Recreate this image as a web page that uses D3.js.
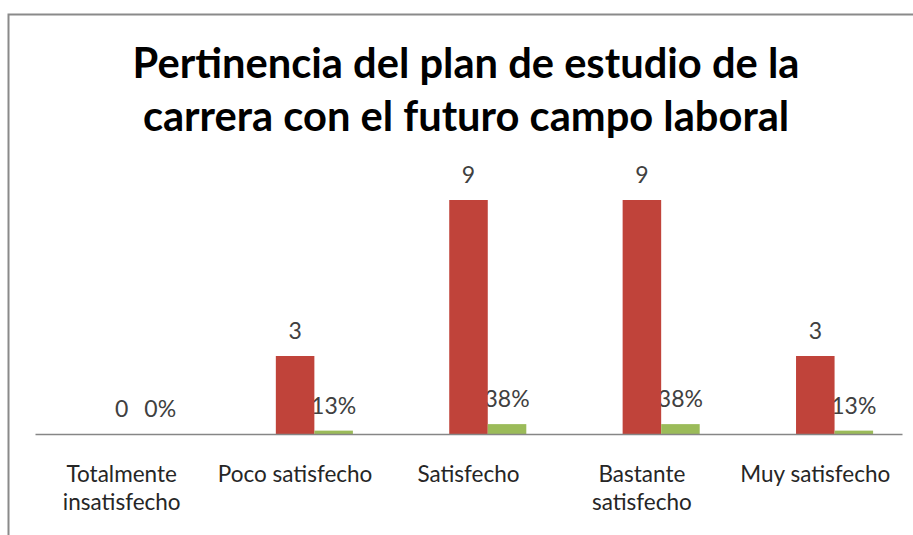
<!DOCTYPE html>
<html>
<head>
<meta charset="utf-8">
<script src="https://cdn.jsdelivr.net/npm/d3@7"></script>
<style>
  body { margin: 0; background: #fff; }
  svg { display: block; font-family: Lato, "Open Sans", sans-serif; }
</style>
</head>
<body>
<script>
const categories = [
  ["Totalmente", "insatisfecho"],
  ["Poco satisfecho"],
  ["Satisfecho"],
  ["Bastante", "satisfecho"],
  ["Muy satisfecho"]
];
// an empty first series keeps the slot left of the red bars free
const seriesNames = ["", "Frecuencia", "Porcentaje"];
const frecuencia = [0, 3, 9, 9, 3];
const porcentaje = [0, 0.13, 0.38, 0.38, 0.13];
const percentLabels = ["0%", "13%", "38%", "38%", "13%"];
const titleLines = ["Pertinencia del plan de estudio de la", "carrera con el futuro campo laboral"];

const w = 913;
const h = 535;
const plotLeft = 35, plotRight = 902, plotBottom = 434, plotTop = 174;

const svg = d3.select("body")
  .append("svg")
  .attr("width", w)
  .attr("height", h);

// chart frame (cropped on the right and bottom)
svg.append("path")
  .attr("d", `M8.5,${h + 2} V14.5 H${w + 2}`)
  .attr("fill", "none")
  .attr("stroke", "#8a8a8a")
  .attr("stroke-width", 2);

// Title
const title = svg.append("g");
titleLines.forEach((t, i) => {
  title.append("text")
    .attr("x", 466)
    .attr("y", 78 + i * 53)
    .attr("text-anchor", "middle")
    .attr("font-weight", 700)
    .attr("font-size", 40)
    .attr("fill", "#000")
    .text(t);
});
// fit the title to the width of the original first line
const firstLen = title.select("text").node().getComputedTextLength();
title.selectAll("text").attr("font-size", 40 * 667 / firstLen);

// Scales
const xScale = d3.scaleBand()
  .domain(d3.range(categories.length))
  .range([plotLeft, plotRight]);

const xSub = d3.scaleBand()
  .domain(seriesNames)
  .range([0, xScale.bandwidth()])
  .paddingOuter(0.75);

const yScale = d3.scaleLinear()
  .domain([0, 10])
  .range([plotBottom, plotTop]);

const rows = categories.map((c, i) => ({
  i: i,
  count: frecuencia[i],
  pct: porcentaje[i],
  pctLabel: percentLabels[i]
}));

// Value labels (drawn first, the red bars sit over them like in the original)
svg.selectAll(".label-pct")
  .data(rows)
  .enter()
  .append("text")
  .attr("class", "label-pct")
  .attr("x", (d) => xScale(d.i) + xSub("Porcentaje") + xSub.bandwidth() / 2)
  .attr("y", (d) => yScale(d.pct) - 17)
  .attr("text-anchor", "middle")
  .attr("font-size", 23)
  .attr("fill", "#404040")
  .text((d) => d.pctLabel);

svg.selectAll(".label-count")
  .data(rows)
  .enter()
  .append("text")
  .attr("class", "label-count")
  .attr("x", (d) => xScale(d.i) + xSub("Frecuencia") + xSub.bandwidth() / 2)
  .attr("y", (d) => yScale(d.count) - 17)
  .attr("text-anchor", "middle")
  .attr("font-size", 23)
  .attr("fill", "#404040")
  .text((d) => d.count);

// Bars
svg.selectAll(".bar-count")
  .data(rows)
  .enter()
  .append("rect")
  .attr("class", "bar-count")
  .attr("x", (d) => xScale(d.i) + xSub("Frecuencia"))
  .attr("y", (d) => yScale(d.count))
  .attr("width", xSub.bandwidth())
  .attr("height", (d) => plotBottom - yScale(d.count))
  .attr("fill", "#c0433a");

svg.selectAll(".bar-pct")
  .data(rows)
  .enter()
  .append("rect")
  .attr("class", "bar-pct")
  .attr("x", (d) => xScale(d.i) + xSub("Porcentaje"))
  .attr("y", (d) => yScale(d.pct))
  .attr("width", xSub.bandwidth())
  .attr("height", (d) => plotBottom - yScale(d.pct))
  .attr("fill", "#9bbb59");

// Axis
const xAxis = d3.axisBottom(xScale).tickSize(0).tickFormat("");
const axisG = svg.append("g")
  .attr("transform", `translate(0, ${plotBottom})`)
  .call(xAxis);
axisG.select(".domain").attr("stroke", "#868686").attr("stroke-width", 1.5);

// Category labels
const catLabels = svg.selectAll(".cat")
  .data(categories)
  .enter()
  .append("text")
  .attr("class", "cat")
  .attr("x", (d, i) => xScale(i) + xScale.bandwidth() / 2)
  .attr("y", 482)
  .attr("text-anchor", "middle")
  .attr("font-size", 22.5)
  .attr("fill", "#262626");

catLabels.selectAll("tspan")
  .data((d) => d)
  .enter()
  .append("tspan")
  .attr("x", function () { return this.parentNode.getAttribute("x"); })
  .attr("dy", (d, i) => (i === 0 ? 0 : 28))
  .text((d) => d);
</script>
</body>
</html>
